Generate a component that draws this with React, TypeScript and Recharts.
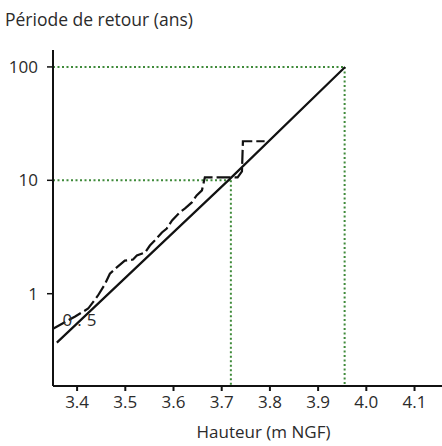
import React from 'react';
import {
  LineChart,
  Line,
  XAxis,
  YAxis,
  ReferenceLine,
  ReferenceDot,
  Label,
} from 'recharts';

// Ajustement (droite) : hauteur (m NGF) -> période de retour (ans)
const fitHeights = [3.358, 3.717, 3.956];
const fitPeriods = [0.37, 10.3, 100];

// Points empiriques (courbe en escalier / tirets)
const empHeights = [
  3.35, 3.396, 3.423, 3.443, 3.458, 3.468, 3.479, 3.499, 3.516, 3.524, 3.541, 3.551, 3.561,
  3.576, 3.586, 3.597, 3.613, 3.624, 3.638, 3.648, 3.659, 3.665, 3.733, 3.742, 3.744, 3.789,
];
const empPeriods = [
  0.49, 0.63, 0.74, 0.96, 1.22, 1.5, 1.66, 1.96, 2.0, 2.17, 2.31, 2.66, 2.94, 3.47, 3.76,
  4.43, 5.21, 5.65, 6.38, 7.37, 8.16, 10.6, 10.6, 12, 22.1, 22.1,
];

const xTicks = [3.4, 3.5, 3.6, 3.7, 3.8, 3.9, 4.0, 4.1];
const yTicks = [1, 10, 100];

// Niveaux de référence (100 ans, 10 ans)
const refPeriods = [100, 10];
const refHeights = [3.955, 3.719];

const fitData = fitHeights.map((h, i) => ({ h, t: fitPeriods[i] }));
const empData = empHeights.map((h, i) => ({ h, t: empPeriods[i] }));

const X_MIN = 3.35;
const X_MAX = 4.157;
const Y_MIN = 0.1535;
const Y_MAX = 141;

const FONT = '"Open Sans", sans-serif';
const GREEN = '#3f8a3a';
const INK = '#2b2b2b';

const App: React.FC = () => {
  return (
    <div style={{ position: 'absolute', left: 0, top: 0, width: 442, height: 446, background: '#fff' }}>
      <LineChart width={442} height={446} margin={{ top: 50, right: 0, bottom: 0, left: 0 }}>
        <XAxis
          type="number"
          dataKey="h"
          domain={[X_MIN, X_MAX]}
          ticks={xTicks}
          allowDataOverflow
          height={60}
          tickFormatter={(v: number) => v.toFixed(1)}
          tick={{ fill: INK, fontSize: 17, fontFamily: FONT }}
          tickSize={5}
          tickMargin={5}
          axisLine={{ stroke: '#111', strokeWidth: 2 }}
          tickLine={{ stroke: '#111', strokeWidth: 2 }}
        >
          <Label
            value="Hauteur (m NGF)"
            position="insideBottom"
            offset={8}
            dx={16}
            style={{ fill: INK, fontSize: 17, fontFamily: FONT }}
          />
        </XAxis>
        <YAxis
          type="number"
          dataKey="t"
          scale="log"
          domain={[Y_MIN, Y_MAX]}
          ticks={yTicks}
          allowDataOverflow
          width={53}
          tick={{ fill: INK, fontSize: 17, fontFamily: FONT }}
          tickSize={6}
          tickMargin={9}
          axisLine={{ stroke: '#111', strokeWidth: 2 }}
          tickLine={{ stroke: '#111', strokeWidth: 1.5 }}
        >
          <Label
            content={() => (
              <text x={5} y={26} fill={INK} fontSize={17.5} fontFamily={FONT}>
                Période de retour (ans)
              </text>
            )}
          />
        </YAxis>

        {refPeriods.map((p, i) => (
          <ReferenceLine
            key={`h-${p}`}
            segment={[
              { x: X_MIN, y: p },
              { x: refHeights[i], y: p },
            ]}
            stroke={GREEN}
            strokeWidth={2}
            strokeDasharray="2 2.5"
          />
        ))}
        {refPeriods.map((p, i) => (
          <ReferenceLine
            key={`v-${p}`}
            segment={[
              { x: refHeights[i], y: p },
              { x: refHeights[i], y: Y_MIN },
            ]}
            stroke={GREEN}
            strokeWidth={2}
            strokeDasharray="2 2.5"
          />
        ))}

        <ReferenceDot
          x={3.41}
          y={0.59}
          r={0}
          fill="none"
          stroke="none"
          label={{
            value: '0.5',
            position: 'center',
            fill: INK,
            fontSize: 17,
            fontFamily: FONT,
            letterSpacing: 5,
          }}
        />

        <Line
          data={empData}
          dataKey="t"
          type="linear"
          stroke="#111"
          strokeWidth={2.2}
          strokeDasharray="14 4"
          dot={false}
          isAnimationActive={false}
        />
        <Line
          data={fitData}
          dataKey="t"
          type="linear"
          stroke="#111"
          strokeWidth={2.2}
          dot={false}
          isAnimationActive={false}
        />
      </LineChart>
    </div>
  );
};

export default App;
